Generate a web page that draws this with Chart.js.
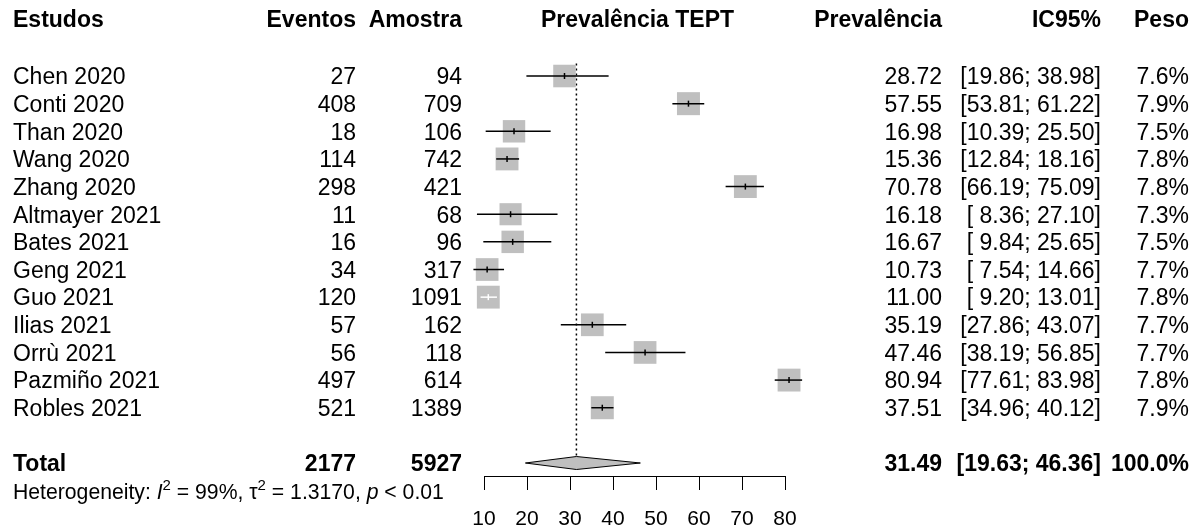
<!DOCTYPE html>
<html>
<head>
<meta charset="utf-8">
<script src="https://cdn.jsdelivr.net/npm/chart.js@4"></script>
<style>
  html, body { margin: 0; padding: 0; background: #fff; }
  #wrap { width: 1200px; height: 529px; }
</style>
</head>
<body>
<div id="wrap"><canvas id="forest" width="1200" height="529"></canvas></div>
<script>
// Dados dos estudos (prevalência de TEPT)
const studies = ['Chen 2020', 'Conti 2020', 'Than 2020', 'Wang 2020', 'Zhang 2020', 'Altmayer 2021',
  'Bates 2021', 'Geng 2021', 'Guo 2021', 'Ilias 2021', 'Orrù 2021', 'Pazmiño 2021', 'Robles 2021'];
const events = [27, 408, 18, 114, 298, 11, 16, 34, 120, 57, 56, 497, 521];
const sampleSizes = [94, 709, 106, 742, 421, 68, 96, 317, 1091, 162, 118, 614, 1389];
const prevalence = [28.72, 57.55, 16.98, 15.36, 70.78, 16.18, 16.67, 10.73, 11.00, 35.19, 47.46, 80.94, 37.51];
const ciLower = [19.86, 53.81, 10.39, 12.84, 66.19, 8.36, 9.84, 7.54, 9.20, 27.86, 38.19, 77.61, 34.96];
const ciUpper = [38.98, 61.22, 25.50, 18.16, 75.09, 27.10, 25.65, 14.66, 13.01, 43.07, 56.85, 83.98, 40.12];
const weights = [7.6, 7.9, 7.5, 7.8, 7.8, 7.3, 7.5, 7.7, 7.8, 7.7, 7.7, 7.8, 7.9];

const totalEvents = 2177;
const totalSample = 5927;
const pooled = [31.49, 19.63, 46.36]; // estimativa, IC inferior, IC superior
const heterogeneity = ['99%', '1.3170', '0.01']; // I2, tau2, p
const xTicks = [10, 20, 30, 40, 50, 60, 70, 80];

const FONT = "'Liberation Sans', Arial, sans-serif";
const BOX_GRAY = '#bfbfbf';
const BOX_MAX = 23;              // lado do quadrado maior (px)
const TOTAL_ROW = 14;
const HEADER_ROW = -2.06;
const HET_ROW = 15.05;
const TEXT_DY = 2;               // ajuste vertical do texto

const fmt2 = v => v.toFixed(2);
const pad = v => (v < 10 ? ' ' : '') + fmt2(v);
const boxSide = w => BOX_MAX * Math.sqrt(w / Math.max(...weights));

// linha do IC que fica dentro do quadrado -> desenhada em branco
function lineColor(chart, i) {
  const sc = chart.scales.x;
  if (!sc || sc.width === 0) return '#000';
  const span = sc.getPixelForValue(ciUpper[i]) - sc.getPixelForValue(ciLower[i]);
  return span < 0.85 * boxSide(weights[i]) ? '#fff' : '#000';
}

const datasets = [];

// marcas verticais na estimativa
datasets.push({
  data: prevalence.map((p, i) => ({ x: p, y: i })),
  showLine: false,
  pointStyle: 'line',
  rotation: 90,
  pointRadius: 3,
  pointBorderWidth: 1.5,
  pointBorderColor: ctx => lineColor(ctx.chart, ctx.dataIndex),
  clip: false
});

// intervalos de confiança
studies.forEach((s, i) => {
  datasets.push({
    data: [{ x: ciLower[i], y: i }, { x: ciUpper[i], y: i }],
    borderColor: ctx => lineColor(ctx.chart, i),
    borderWidth: 1.5,
    pointRadius: 0,
    clip: false
  });
});

// quadrados proporcionais ao peso
datasets.push({
  data: prevalence.map((p, i) => ({ x: p, y: i })),
  showLine: false,
  pointStyle: 'rect',
  pointRadius: weights.map(w => boxSide(w) / Math.SQRT2),
  pointBackgroundColor: BOX_GRAY,
  pointBorderWidth: 0,
  clip: false
});

// diamante do efeito combinado (duas metades)
const dh = 0.235;
datasets.push({
  data: [{ x: pooled[1], y: TOTAL_ROW }, { x: pooled[0], y: TOTAL_ROW - dh }, { x: pooled[2], y: TOTAL_ROW }],
  borderColor: '#000', borderWidth: 1, pointRadius: 0, tension: 0,
  fill: { value: TOTAL_ROW }, backgroundColor: BOX_GRAY, clip: false
});
datasets.push({
  data: [{ x: pooled[1], y: TOTAL_ROW }, { x: pooled[0], y: TOTAL_ROW + dh }, { x: pooled[2], y: TOTAL_ROW }],
  borderColor: '#000', borderWidth: 1, pointRadius: 0, tension: 0,
  fill: { value: TOTAL_ROW }, backgroundColor: BOX_GRAY, clip: false
});

// linha pontilhada na estimativa combinada
datasets.push({
  data: [{ x: pooled[0], y: -0.45 }, { x: pooled[0], y: TOTAL_ROW - dh }],
  borderColor: '#000', borderWidth: 1.5, borderDash: [2, 3], pointRadius: 0, clip: false
});

// Plugin para as colunas de texto
const tablePlugin = {
  id: 'forestTable',
  afterDraw(chart) {
    const ctx = chart.ctx;
    const y = chart.scales.y;
    const xs = chart.scales.x;
    const midX = (xs.left + xs.right) / 2 + 3;
    ctx.save();
    ctx.fillStyle = '#000';
    ctx.textBaseline = 'middle';

    const text = (t, x, row, align, bold) => {
      ctx.font = (bold ? 'bold ' : '') + '23px ' + FONT;
      ctx.textAlign = align;
      ctx.fillText(t, x, y.getPixelForValue(row) + TEXT_DY);
    };

    // cabeçalho
    text('Estudos', 13, HEADER_ROW, 'left', true);
    text('Eventos', 356, HEADER_ROW, 'right', true);
    text('Amostra', 462, HEADER_ROW, 'right', true);
    text('Prevalência TEPT', midX, HEADER_ROW, 'center', true);
    text('Prevalência', 942, HEADER_ROW, 'right', true);
    text('IC95%', 1101, HEADER_ROW, 'right', true);
    text('Peso', 1189, HEADER_ROW, 'right', true);

    // estudos
    studies.forEach((s, i) => {
      text(s, 13, i, 'left', false);
      text(String(events[i]), 356, i, 'right', false);
      text(String(sampleSizes[i]), 462, i, 'right', false);
      text(fmt2(prevalence[i]), 942, i, 'right', false);
      text('[' + pad(ciLower[i]) + '; ' + pad(ciUpper[i]) + ']', 1101, i, 'right', false);
      text(weights[i].toFixed(1) + '%', 1189, i, 'right', false);
    });

    // total
    text('Total', 13, TOTAL_ROW, 'left', true);
    text(String(totalEvents), 356, TOTAL_ROW, 'right', true);
    text(String(totalSample), 462, TOTAL_ROW, 'right', true);
    text(fmt2(pooled[0]), 942, TOTAL_ROW, 'right', true);
    text('[' + pad(pooled[1]) + '; ' + pad(pooled[2]) + ']', 1101, TOTAL_ROW, 'right', true);
    text('100.0%', 1189, TOTAL_ROW, 'right', true);

    // heterogeneidade com sobrescritos
    const hy = y.getPixelForValue(HET_ROW) + 1;
    let hx = 13;
    ctx.textAlign = 'left';
    const seg = (t, style, dy, size) => {
      ctx.font = style + ' ' + size + 'px ' + FONT;
      ctx.fillText(t, hx, hy + dy);
      hx += ctx.measureText(t).width;
    };
    seg('Heterogeneity: ', 'normal', 0, 21.2);
    seg('I', 'italic', 0, 21.2);
    seg('2', 'normal', -7, 15);
    seg(' = ' + heterogeneity[0] + ', ', 'normal', 0, 21.2);
    seg('τ', 'normal', 0, 21.2);
    seg('2', 'normal', -7, 15);
    seg(' = ' + heterogeneity[1] + ', ', 'normal', 0, 21.2);
    seg('p', 'italic', 0, 21.2);
    seg(' < ' + heterogeneity[2], 'normal', 0, 21.2);
    ctx.restore();
  }
};

new Chart(document.getElementById('forest'), {
  type: 'line',
  data: { datasets },
  plugins: [tablePlugin],
  options: {
    responsive: false,
    animation: false,
    events: [],
    layout: { autoPadding: false, padding: { left: 484, right: 415, top: 0, bottom: 0 } },
    plugins: { legend: { display: false }, tooltip: { enabled: false } },
    scales: {
      x: {
        type: 'linear',
        min: 10,
        max: 80,
        afterBuildTicks: axis => { axis.ticks = xTicks.map(v => ({ value: v })); },
        afterFit: axis => { axis.height = 53; },
        ticks: { color: '#000', padding: 19, font: { family: FONT, size: 21, lineHeight: 1 } },
        grid: { drawOnChartArea: false, drawTicks: true, tickLength: 14, color: '#000', lineWidth: 1 },
        border: { display: true, color: '#000', width: 1 }
      },
      y: {
        type: 'linear',
        min: -2.75,
        max: 14.47,
        reverse: true,
        display: false
      }
    }
  }
});
</script>
</body>
</html>
